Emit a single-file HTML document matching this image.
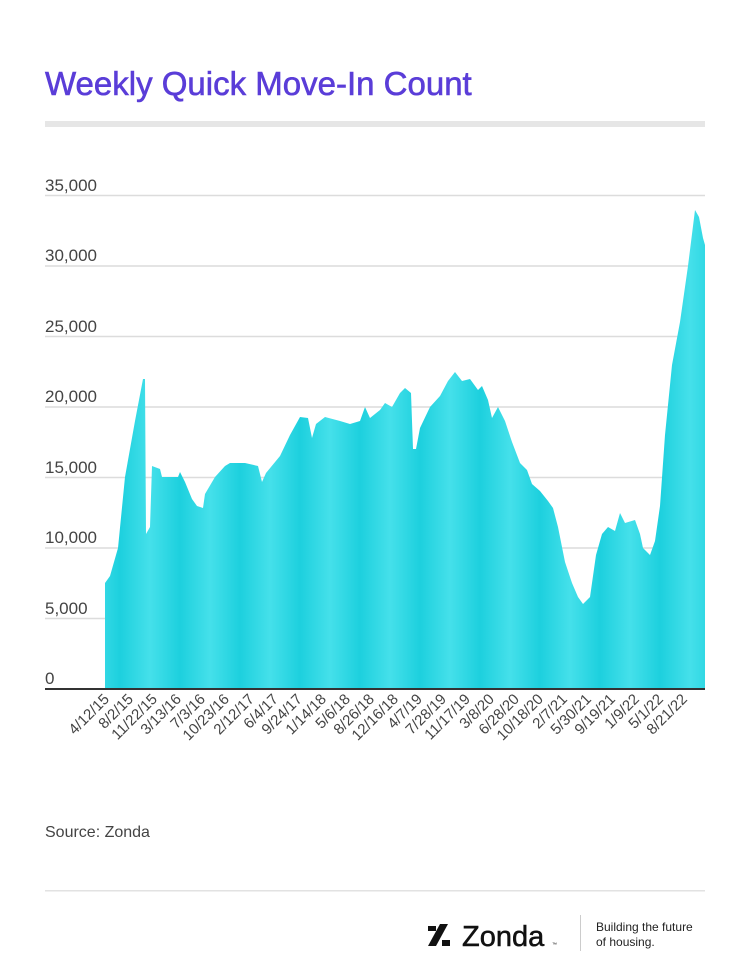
<!DOCTYPE html>
<html><head><meta charset="utf-8"><style>
body{margin:0;background:#fff;}
svg{display:block;font-family:"Liberation Sans",sans-serif;}
</style></head><body>
<svg width="750" height="974" viewBox="0 0 750 974">
<defs>
<linearGradient id="g" x1="0" x2="30" y1="0" y2="0" gradientUnits="userSpaceOnUse" spreadMethod="reflect">
<stop offset="0" stop-color="#1dd0de"/><stop offset="1" stop-color="#45e0ea"/>
</linearGradient>
</defs>
<text x="45" y="95" font-size="33" fill="#5a3dd8" stroke="#5a3dd8" stroke-width="0.6">Weekly Quick Move-In Count</text>
<rect x="45" y="121" width="660" height="6" fill="#e6e6e6"/>
<g stroke="#dcdcdc" stroke-width="1.5">
<line x1="45" x2="705" y1="195.5" y2="195.5"/>
<line x1="45" x2="705" y1="266" y2="266"/>
<line x1="45" x2="705" y1="336.5" y2="336.5"/>
<line x1="45" x2="705" y1="407" y2="407"/>
<line x1="45" x2="705" y1="477.5" y2="477.5"/>
<line x1="45" x2="705" y1="548" y2="548"/>
<line x1="45" x2="705" y1="618.5" y2="618.5"/>
</g>
<g font-size="17" fill="#444">
<text x="45" y="191">35,000</text>
<text x="45" y="261">30,000</text>
<text x="45" y="332">25,000</text>
<text x="45" y="402">20,000</text>
<text x="45" y="473">15,000</text>
<text x="45" y="543">10,000</text>
<text x="45" y="614">5,000</text>
<text x="45" y="684">0</text>
</g>
<path fill="url(#g)" d="M105,689 L105,583 L110,576 L118,548 L125,477 L135,421 L143,379 L145,379 L146,534 L150,527 L152,466 L160,469 L162,477 L178,477 L180,472 L185,482 L192,499 L197,506 L203,508 L205,494 L215,477 L225,466 L230,463 L245,463 L258,466 L262,482 L266,473 L280,456 L290,435 L300,417 L308,418 L312,438 L316,424 L325,417 L340,421 L350,424 L360,421 L365,407 L370,418 L380,410 L385,403 L392,407 L400,393 L405,388 L411,393 L413,449 L416,449 L420,428 L430,407 L440,396 L448,381 L455,372 L462,381 L470,379 L478,390 L482,386 L488,400 L492,418 L498,407 L505,421 L512,442 L520,463 L527,470 L532,484 L540,491 L548,501 L553,508 L558,527 L565,562 L572,583 L578,597 L583,604 L590,597 L596,555 L602,534 L608,527 L615,531 L620,513 L625,523 L635,520 L640,534 L643,548 L650,555 L655,541 L660,506 L665,435 L672,365 L680,322 L688,266 L695,210 L699,217 L703,238 L705,245 L705,689 Z"/>
<line x1="45" x2="705" y1="689" y2="689" stroke="#333" stroke-width="2"/>
<g font-size="15" fill="#444" text-anchor="end">
<text transform="translate(110,700) rotate(-45)">4/12/15</text>
<text transform="translate(134,700) rotate(-45)">8/2/15</text>
<text transform="translate(158,700) rotate(-45)">11/22/15</text>
<text transform="translate(182,700) rotate(-45)">3/13/16</text>
<text transform="translate(206,700) rotate(-45)">7/3/16</text>
<text transform="translate(230,700) rotate(-45)">10/23/16</text>
<text transform="translate(255,700) rotate(-45)">2/12/17</text>
<text transform="translate(279,700) rotate(-45)">6/4/17</text>
<text transform="translate(303,700) rotate(-45)">9/24/17</text>
<text transform="translate(327,700) rotate(-45)">1/14/18</text>
<text transform="translate(351,700) rotate(-45)">5/6/18</text>
<text transform="translate(375,700) rotate(-45)">8/26/18</text>
<text transform="translate(399,700) rotate(-45)">12/16/18</text>
<text transform="translate(423,700) rotate(-45)">4/7/19</text>
<text transform="translate(447,700) rotate(-45)">7/28/19</text>
<text transform="translate(471,700) rotate(-45)">11/17/19</text>
<text transform="translate(495,700) rotate(-45)">3/8/20</text>
<text transform="translate(520,700) rotate(-45)">6/28/20</text>
<text transform="translate(544,700) rotate(-45)">10/18/20</text>
<text transform="translate(568,700) rotate(-45)">2/7/21</text>
<text transform="translate(592,700) rotate(-45)">5/30/21</text>
<text transform="translate(616,700) rotate(-45)">9/19/21</text>
<text transform="translate(640,700) rotate(-45)">1/9/22</text>
<text transform="translate(664,700) rotate(-45)">5/1/22</text>
<text transform="translate(688,700) rotate(-45)">8/21/22</text>
</g>
<text x="45" y="837" font-size="16" fill="#444">Source: Zonda</text>
<rect x="45" y="890" width="660" height="1.5" fill="#e2e2e2"/>
<g fill="#111">
<rect x="428" y="926" width="8" height="5"/>
<polygon points="440,924 448,924 436,946 428,946"/>
<rect x="442" y="940" width="8" height="6"/>
</g>
<text x="462" y="946" font-size="29" fill="#111" stroke="#111" stroke-width="0.5">Zonda</text>
<text x="552" y="946" font-size="5" fill="#111">™</text>
<rect x="580" y="915" width="1" height="36" fill="#ccc"/>
<text x="596" y="931" font-size="12" fill="#222">Building the future</text>
<text x="596" y="946" font-size="12" fill="#222">of housing.</text>
</svg>
</body></html>
